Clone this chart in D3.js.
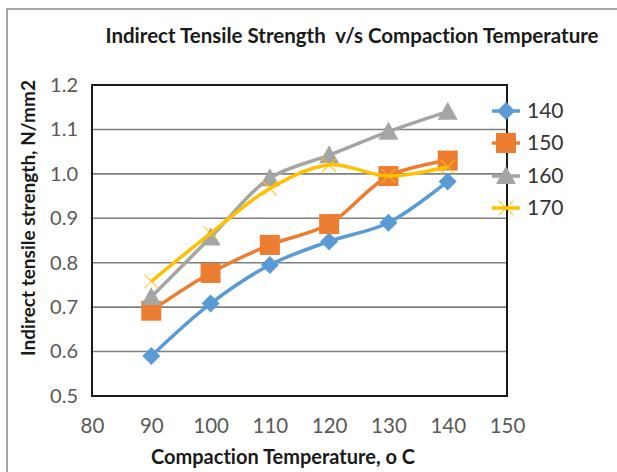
<!DOCTYPE html>
<html>
<head>
<meta charset="utf-8">
<script src="https://cdn.jsdelivr.net/npm/d3@7"></script>
<style>
  body { margin: 0; background: #fff; }
  svg { display: block; font-family: Lato, "Open Sans", sans-serif; font-variant-ligatures: none; }
</style>
</head>
<body>
<svg width="617" height="472"></svg>
<script>
// data
var temps = [90, 100, 110, 120, 130, 140];
var seriesNames = ["140", "150", "160", "170"];
var s140 = [0.59, 0.708, 0.795, 0.848, 0.89, 0.983];
var s150 = [0.692, 0.777, 0.84, 0.887, 0.995, 1.03];
var s160 = [0.723, 0.857, 0.99, 1.042, 1.095, 1.14];
var s170 = [0.758, 0.866, 0.967, 1.02, 0.995, 1.016];
var xTicks = [80, 90, 100, 110, 120, 130, 140, 150];
var yTicks = [0.5, 0.6, 0.7, 0.8, 0.9, 1.0, 1.1, 1.2];

var colors = ["#5B9BD5", "#ED7D31", "#A5A5A5", "#FFC000"];
var markers = ["diamond", "square", "triangle", "x"];
var allSeries = [s140, s150, s160, s170];

var svg = d3.select("svg");
var plot = { left: 92, top: 85, right: 507, bottom: 396 };

var x = d3.scaleLinear().domain([80, 150]).range([plot.left, plot.right]);
var y = d3.scaleLinear().domain([0.5, 1.2]).range([plot.bottom, plot.top]);

// outer chart border (only top and left show)
svg.append("path")
    .attr("d", "M7,472 V9 H617")
    .attr("fill", "none")
    .attr("stroke", "#a6a6a6")
    .attr("stroke-width", 2);

// title
svg.append("text")
    .attr("x", 352).attr("y", 43)
    .attr("text-anchor", "middle")
    .attr("font-weight", "bold")
    .attr("font-size", 20.5)
    .attr("fill", "#1a1a1a")
    .style("white-space", "pre")
    .text("Indirect Tensile Strength  v/s Compaction Temperature");

// gridlines
svg.append("g")
    .selectAll("line")
    .data(yTicks.slice(1, -1))
    .join("line")
    .attr("x1", plot.left).attr("x2", plot.right)
    .attr("y1", d => y(d)).attr("y2", d => y(d))
    .attr("stroke", "#7f7f7f")
    .attr("stroke-width", 1.6);

// y axis labels
var yAxis = svg.append("g")
    .attr("transform", "translate(" + plot.left + ",0)")
    .call(d3.axisLeft(y).tickValues(yTicks).tickFormat(d3.format(".1f")).tickSize(0).tickPadding(14));
yAxis.select(".domain").remove();
yAxis.selectAll("text")
    .attr("font-family", "Lato, sans-serif")
    .attr("font-size", 20)
    .attr("fill", "#595959");

// x axis labels
var xAxis = svg.append("g")
    .attr("transform", "translate(0," + plot.bottom + ")")
    .call(d3.axisBottom(x).tickValues(xTicks).tickSize(0).tickPadding(22));
xAxis.select(".domain").remove();
xAxis.selectAll("text")
    .attr("font-family", "Lato, sans-serif")
    .attr("font-size", 20.5)
    .attr("fill", "#595959");

// plot frame
svg.append("rect")
    .attr("x", plot.left).attr("y", plot.top)
    .attr("width", plot.right - plot.left)
    .attr("height", plot.bottom - plot.top)
    .attr("fill", "none")
    .attr("stroke", "#1a1a1a")
    .attr("stroke-width", 2);

// axis titles
svg.append("text")
    .attr("x", 283).attr("y", 464)
    .attr("text-anchor", "middle")
    .attr("font-weight", "bold")
    .attr("font-size", 20)
    .attr("fill", "#1a1a1a")
    .text("Compaction Temperature, o C");

svg.append("text")
    .attr("transform", "translate(35,218) rotate(-90)")
    .attr("text-anchor", "middle")
    .attr("font-weight", "bold")
    .attr("font-size", 19)
    .attr("fill", "#1a1a1a")
    .text("Indirect tensile strength, N/mm2");

function drawMarker(g, type, color, cx, cy) {
    if (type === "diamond") {
        g.append("path")
            .attr("d", "M" + cx + "," + (cy - 9) + " L" + (cx + 9) + "," + cy + " L" + cx + "," + (cy + 9) + " L" + (cx - 9) + "," + cy + "Z")
            .attr("fill", color);
    } else if (type === "square") {
        g.append("rect")
            .attr("x", cx - 10).attr("y", cy - 10)
            .attr("width", 20).attr("height", 20)
            .attr("fill", color);
    } else if (type === "triangle") {
        g.append("path")
            .attr("d", "M" + cx + "," + (cy - 10) + " L" + (cx + 10) + "," + (cy + 8) + " L" + (cx - 10) + "," + (cy + 8) + "Z")
            .attr("fill", color);
    } else {
        g.append("path")
            .attr("d", "M" + (cx - 7) + "," + (cy - 7) + " L" + (cx + 7) + "," + (cy + 7) + " M" + (cx + 7) + "," + (cy - 7) + " L" + (cx - 7) + "," + (cy + 7))
            .attr("stroke", color)
            .attr("stroke-width", 1.2)
            .attr("stroke-opacity", 0.8);
    }
}

var line = d3.line()
    .x((d, i) => x(temps[i]))
    .y(d => y(d))
    .curve(d3.curveCatmullRom.alpha(0.5));

allSeries.forEach(function (vals, k) {
    var g = svg.append("g").classed("series-" + seriesNames[k], true);
    g.append("path")
        .datum(vals)
        .attr("d", line)
        .attr("fill", "none")
        .attr("stroke", colors[k])
        .attr("stroke-width", 3.5);
    vals.forEach(function (v, i) {
        drawMarker(g, markers[k], colors[k], x(temps[i]), y(v));
    });
});

// legend
var legendY = [111, 143, 176, 208];
seriesNames.forEach(function (name, k) {
    var g = svg.append("g");
    g.append("line")
        .attr("x1", 492).attr("x2", 520)
        .attr("y1", legendY[k]).attr("y2", legendY[k])
        .attr("stroke", colors[k])
        .attr("stroke-width", 3.5);
    drawMarker(g, markers[k], colors[k], 506, legendY[k]);
    g.append("text")
        .attr("x", 527).attr("y", legendY[k])
        .attr("dy", "0.35em")
        .attr("font-size", 21)
        .attr("fill", "#333")
        .text(name);
});
</script>
</body>
</html>
